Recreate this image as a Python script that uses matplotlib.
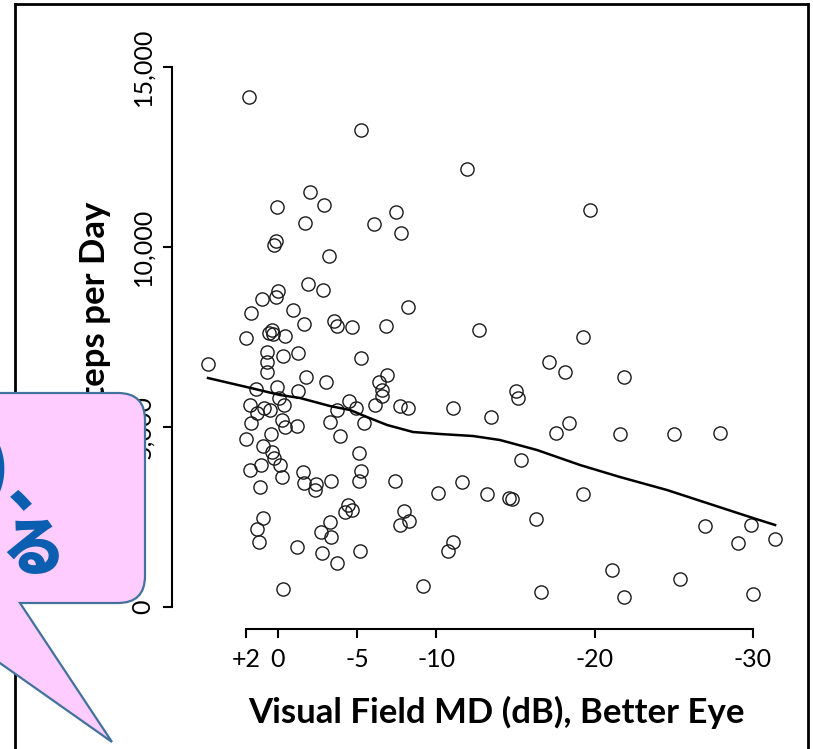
import matplotlib
matplotlib.use("Agg")
import matplotlib.pyplot as plt
from matplotlib.path import Path
from matplotlib.patches import PathPatch
from matplotlib.lines import Line2D

# ---------------- data ----------------
md_db = [1.83, -5.24, -11.94, -19.71, -2.02, 0.06, -2.91, -1.71, -6.06, -7.45,
         -7.77, 0.13, 0.25, -3.22, -1.90, -2.84, 0.00, 0.13, 1.01, 1.71,
         -0.95, -8.21, -1.64, -3.54, -3.73, -4.67, -6.82, -12.70, -19.27, 0.38,
         0.57, 0.32, -0.44, 2.02, 0.69, 0.69, 0.69, -0.32, -1.26, -5.24,
         4.42, -1.77, -3.03, -6.89, -6.38, -6.57, -6.57, -17.12, -18.13, -21.86,
         1.39, 0.06, -0.06, -1.26, -15.03, -15.16, 1.77, 1.33, 0.88, 0.51,
         -0.38, 1.71, -0.25, -0.44, -1.20, 0.44, 2.02, 0.95, 0.38, 0.25,
         -0.13, 1.07, 1.77, -0.25, 1.14, -4.49, -4.93, -3.73, -3.28, -3.92,
         -5.43, -6.13, -7.71, -8.21, -11.05, -13.46, -5.12, -5.24, -5.12, -1.58,
         -1.64, -2.40, -2.34, -3.35, -7.39, -11.62, -10.11, -13.20, -14.59, -14.78,
         -19.27, -15.35, -18.38, -17.56, -21.60, -25.02, -27.92, -4.42, -4.23, -4.67,
         -7.96, -8.28, -7.71, 0.95, 1.33, 1.20, -3.28, -2.72, -3.35, -1.20,
         -2.78, -3.73, -5.18, -11.05, -10.74, -0.32, -9.16, -16.30, -26.97, -29.88,
         -29.06, -31.40, -21.10, -25.40, -16.61, -21.86, -30.01]
steps = [14167, 13250, 12167, 11028, 11528, 11111, 11167, 10667, 10639, 10972,
         10389, 10167, 10056, 9750, 8972, 8806, 8778, 8611, 8556, 8167,
         8250, 8333, 7861, 7944, 7806, 7778, 7806, 7694, 7500, 7694,
         7611, 7583, 7528, 7472, 7083, 6806, 6528, 6972, 7056, 6917,
         6750, 6389, 6250, 6444, 6250, 6028, 5861, 6806, 6528, 6389,
         6056, 6111, 5806, 6000, 6000, 5806, 5611, 5389, 5528, 5472,
         5611, 5111, 5194, 5000, 5028, 4806, 4667, 4472, 4306, 4139,
         3944, 3944, 3806, 3611, 3333, 5722, 5528, 5472, 5139, 4750,
         5111, 5611, 5583, 5528, 5528, 5278, 4278, 3778, 3500, 3750,
         3444, 3417, 3250, 3500, 3500, 3472, 3167, 3139, 3028, 3000,
         3139, 4083, 5111, 4833, 4806, 4806, 4833, 2833, 2639, 2694,
         2667, 2389, 2278, 2472, 2167, 1806, 2361, 2083, 1944, 1667,
         1500, 1222, 1556, 1806, 1556, 500, 583, 2444, 2250, 2278,
         1778, 1889, 1028, 778, 417, 278, 361]

smooth_md = [4.42, 1.45, -0.13, -1.39, -3.28, -4.55, -5.62, -6.89, -8.53, -10.23,
             -12.32, -14.02, -16.36, -19.08, -21.60, -24.57, -27.48, -30.00, -31.40]
smooth_steps = [6361, 6056, 5889, 5806, 5583, 5472, 5278, 5056, 4861, 4806,
                4750, 4639, 4361, 3944, 3611, 3250, 2833, 2472, 2278]

x_ticks = [2, 0, -5, -10, -20, -30]
x_tick_labels = ["+2", "0", "-5", "-10", "-20", "-30"]
y_ticks = [0, 5000, 10000, 15000]
y_tick_labels = ["0", "5,000", "10,000", "15,000"]

x_label = "Visual Field MD (dB), Better Eye"
y_label = "Steps per Day"
bubble_line1a = ")"
bubble_line1b = "、"
bubble_line2 = "る"

# ---------------- figure ----------------
W, H = 813, 749
fig = plt.figure(figsize=(W / 100, H / 100), dpi=100)
fig.patch.set_facecolor("white")


def fx(x):
    return x / W


def fy(y):
    return 1 - y / H


ax = fig.add_axes([fx(180), fy(615), fx(790) - fx(180), fy(60) - fy(615)])
ax.set_xlim(6.19, -32.34)
ax.set_ylim(-222, 15195)
ax.set_facecolor("none")

ax.plot(md_db, steps, linestyle="none", marker="o", markersize=9.5,
        markerfacecolor="none", markeredgecolor="#1a1a1a", markeredgewidth=1.0)
ax.plot(smooth_md, smooth_steps, color="black", linewidth=1.8)

for s in ["top", "right"]:
    ax.spines[s].set_visible(False)
ax.spines["left"].set_position(("outward", 5.8))
ax.spines["bottom"].set_position(("outward", 10.0))
ax.spines["left"].set_bounds(0, 15000)
ax.spines["bottom"].set_bounds(-30, 2)
for s in ["left", "bottom"]:
    ax.spines[s].set_linewidth(1.5)

tick_font = dict(family="Lato", size=18)
ax.set_xticks(x_ticks)
ax.set_xticklabels(x_tick_labels, fontdict=tick_font)
ax.set_yticks(y_ticks)
ax.set_yticklabels(y_tick_labels, fontdict=tick_font, rotation=90, va="center")
ax.tick_params(axis="both", direction="out", length=6.5, width=1.5, color="black")
ax.tick_params(axis="x", pad=7)
ax.tick_params(axis="y", pad=6)

fig.text(fx(496), fy(712), x_label, ha="center", va="center",
         family="Lato", fontweight="bold", fontsize=25)
fig.text(fx(95), fy(202), y_label, ha="center", va="top", rotation=90,
         family="Lato", fontweight="bold", fontsize=25)

# ---------------- frame of the slide image ----------------
frame_kw = dict(color="black", linewidth=2.0, transform=fig.transFigure, zorder=20)
fig.add_artist(Line2D([fx(15), fx(808)], [fy(4), fy(4)], **frame_kw))
fig.add_artist(Line2D([fx(808), fx(808)], [fy(4), fy(760)], **frame_kw))
fig.add_artist(Line2D([fx(15), fx(15)], [fy(4), fy(760)], **frame_kw))

# ---------------- callout bubble ----------------
pts = [(-20, 393), (118, 393), (145, 393), (145, 420), (145, 576), (145, 603),
       (118, 603), (20, 603), (112, 742), (-20, 649), (-20, 393)]
codes = [Path.MOVETO, Path.LINETO, Path.CURVE3, Path.CURVE3, Path.LINETO,
         Path.CURVE3, Path.CURVE3, Path.LINETO, Path.LINETO, Path.LINETO,
         Path.CLOSEPOLY]
bubble = Path([(fx(x), fy(y)) for x, y in pts], codes)
fig.add_artist(PathPatch(bubble, facecolor="#FFCCFF", edgecolor="#41719C",
                         linewidth=1.6, transform=fig.transFigure, zorder=30))

jp = dict(family=["Noto Sans CJK JP", "DejaVu Sans"], fontweight=900,
          fontsize=46, color="#0B5EB0", zorder=31)
fig.text(fx(9), fy(489), bubble_line1a, ha="right", va="baseline", **jp)
fig.text(fx(8), fy(505), bubble_line1b, ha="left", va="baseline", **jp)
fig.text(fx(1), fy(570), bubble_line2, ha="left", va="baseline", **jp)

fig.savefig("out.png", dpi=100)
